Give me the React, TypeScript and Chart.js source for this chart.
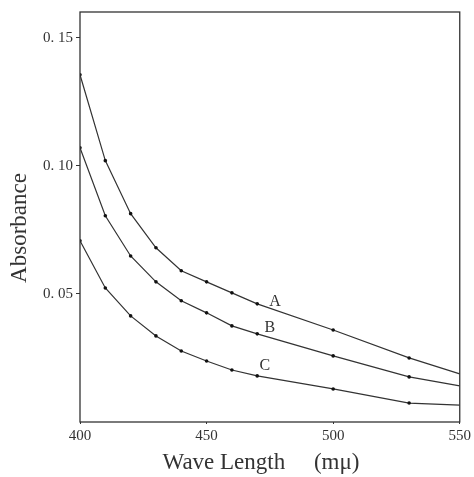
import React, { useEffect, useRef } from "react";
import { Chart, registerables } from "chart.js";

Chart.register(...registerables);

const wavelengths = [400, 410, 420, 430, 440, 450, 460, 470, 500, 530, 550];
const seriesA = [0.1355, 0.102, 0.0813, 0.068, 0.059, 0.0547, 0.0504, 0.0461, 0.0359, 0.025, 0.0188];
const seriesB = [0.107, 0.0805, 0.0648, 0.0547, 0.0473, 0.0426, 0.0375, 0.0344, 0.0258, 0.0176, 0.0141];
const seriesC = [0.0707, 0.0523, 0.0414, 0.0336, 0.0277, 0.0238, 0.0203, 0.018, 0.0129, 0.0074, 0.0066];
const seriesNames = ["A", "B", "C"];
const labelX = [477, 475, 473];
const labelY = [0.047, 0.0367, 0.022];
const yTicks = [0.05, 0.1, 0.15];
const xTicks = [400, 450, 500, 550];

const INK = "#333333";
const FONT = "'Liberation Serif', 'DejaVu Serif', serif";

export default function App() {
  const ref = useRef<HTMLCanvasElement | null>(null);

  useEffect(() => {
    document.body.style.margin = "0";
    const canvas = ref.current;
    if (!canvas) return;

    const mk = (vals: number[]) => wavelengths.map((x, i) => ({ x, y: vals[i] }));
    const radii = wavelengths.map((w) => (w === 550 ? 0 : 1.8));

    const decor = {
      id: "decor",
      afterDatasetsDraw(chart: any) {
        const { ctx, chartArea, scales } = chart;
        ctx.save();
        ctx.strokeStyle = INK;
        ctx.lineWidth = 1.3;
        ctx.strokeRect(chartArea.left, chartArea.top, chartArea.right - chartArea.left, chartArea.bottom - chartArea.top);
        ctx.fillStyle = INK;
        ctx.font = `16px ${FONT}`;
        ctx.textAlign = "center";
        ctx.textBaseline = "middle";
        seriesNames.forEach((n, i) => {
          ctx.fillText(n, scales.x.getPixelForValue(labelX[i]), scales.y.getPixelForValue(labelY[i]));
        });
        ctx.font = `23px ${FONT}`;
        ctx.fillText("Wave Length\u2003 (m\u03bc)", 261, 463);
        ctx.translate(20, 228);
        ctx.rotate(-Math.PI / 2);
        ctx.fillText("Absorbance", 0, 0);
        ctx.restore();
      },
    };

    const lineDs = (label: string, vals: number[]) => ({
      label,
      data: mk(vals),
      borderColor: INK,
      backgroundColor: "#111",
      borderWidth: 1.2,
      pointRadius: radii,
      pointBorderWidth: 0,
      tension: 0,
    });

    const chart = new Chart(canvas, {
      type: "line",
      data: {
        datasets: [lineDs("A", seriesA), lineDs("B", seriesB), lineDs("C", seriesC)],
      },
      plugins: [decor],
      options: {
        animation: false,
        responsive: false,
        maintainAspectRatio: false,
        layout: { padding: { top: 12, right: 12, left: 0, bottom: 0 } },
        plugins: { legend: { display: false }, tooltip: { enabled: false } },
        scales: {
          x: {
            type: "linear",
            min: 400,
            max: 550,
            afterBuildTicks: (s: any) => {
              s.ticks = xTicks.map((v) => ({ value: v }));
            },
            afterFit: (s: any) => {
              s.height = 55;
            },
            grid: { display: true, drawOnChartArea: false, drawTicks: true, tickLength: 2, color: INK },
            border: { display: false },
            ticks: { color: INK, font: { family: FONT, size: 15 }, padding: 3, maxRotation: 0 },
          },
          y: {
            type: "linear",
            min: 0,
            max: 0.16,
            afterBuildTicks: (s: any) => {
              s.ticks = yTicks.map((v) => ({ value: v }));
            },
            afterFit: (s: any) => {
              s.width = 80;
            },
            grid: { display: true, drawOnChartArea: false, drawTicks: true, tickLength: 4, color: INK },
            border: { display: false },
            ticks: {
              color: INK,
              font: { family: FONT, size: 15 },
              padding: 3,
              callback: (v: any) => Number(v).toFixed(2).replace(".", ". "),
            },
          },
        },
      },
    });
    return () => chart.destroy();
  }, []);

  return <canvas ref={ref} width={474} height={477} style={{ display: "block", width: 474, height: 477 }} />;
}
